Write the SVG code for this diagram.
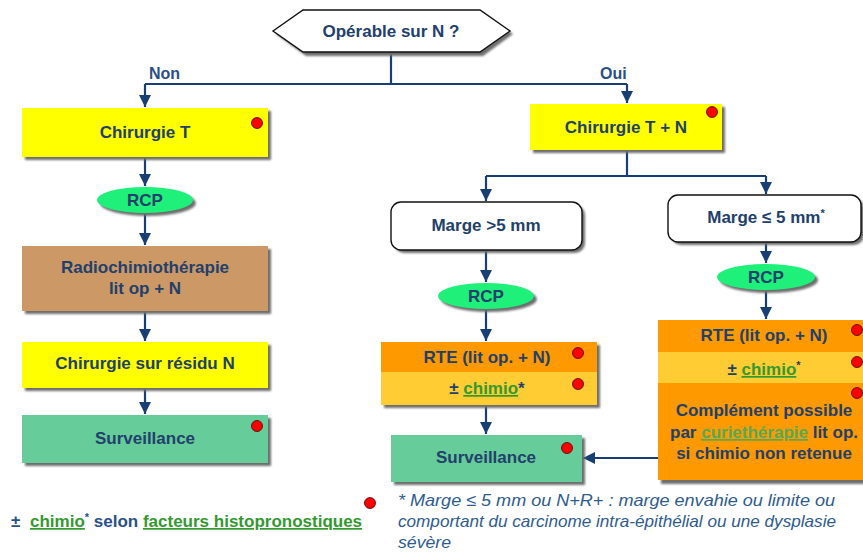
<svg xmlns="http://www.w3.org/2000/svg" width="863" height="553" viewBox="0 0 863 553">
<defs>
<marker id="ah" markerUnits="userSpaceOnUse" markerWidth="14" markerHeight="14" refX="12" refY="6" orient="auto">
<path d="M0,0 L12,6 L0,12 Z" fill="#173F74"/>
</marker>
<filter id="sh" x="-10%" y="-10%" width="130%" height="140%">
<feGaussianBlur stdDeviation="0.8"/>
</filter>
</defs>
<style>
.t{font-family:"Liberation Sans",Arial,sans-serif;font-weight:bold;font-size:17px;fill:#22406C;text-anchor:middle}
.lbl{font-family:"Liberation Sans",Arial,sans-serif;font-weight:bold;font-size:16px;fill:#2A5088}
.u{fill:#33992F;text-decoration:underline}
.st{font-size:11px}
.sh{fill:#6E6E6E;filter:url(#sh)}
.c{fill:none;stroke:#173F74;stroke-width:2.2}
.dot{fill:#FF0000;stroke:#4A0000;stroke-width:0.8}
.yel{fill:#FFFF00}
.grn{fill:#66CC99}
.rcp{fill:#1EF07A}
.tan{fill:#CC9966}
.org{fill:#FF9900}
.lorg{fill:#FFCC33}
.wb{fill:#FFFFFF;stroke:#111111;stroke-width:1.4}
.fn{font-family:"Liberation Sans",Arial,sans-serif;font-style:italic;font-size:17px;fill:#2F5C8E}
</style>

<g id="connectors">
<path class="c" d="M391,53 V84"/>
<path class="c" d="M145,84 H627"/>
<path class="c" d="M145,84 V107" marker-end="url(#ah)"/>
<path class="c" d="M627,84 V103" marker-end="url(#ah)"/>
<path class="c" d="M145,157 V186" marker-end="url(#ah)"/>
<path class="c" d="M145,213 V245" marker-end="url(#ah)"/>
<path class="c" d="M145,311 V341" marker-end="url(#ah)"/>
<path class="c" d="M145,388 V414" marker-end="url(#ah)"/>
<path class="c" d="M627,150 V176"/>
<path class="c" d="M486,176 H766"/>
<path class="c" d="M486,176 V201" marker-end="url(#ah)"/>
<path class="c" d="M766,176 V194" marker-end="url(#ah)"/>
<path class="c" d="M486,250 V282" marker-end="url(#ah)"/>
<path class="c" d="M486,309 V341" marker-end="url(#ah)"/>
<path class="c" d="M766,242 V263" marker-end="url(#ah)"/>
<path class="c" d="M766,290 V319" marker-end="url(#ah)"/>
<path class="c" d="M486,405 V434" marker-end="url(#ah)"/>
<path class="c" d="M658,458 H583" marker-end="url(#ah)"/>
<text class="lbl" x="149" y="79">Non</text>
<text class="lbl" x="600" y="79">Oui</text>
</g>

<g id="operable">
<path class="sh" d="M276,34 L306,13 L483,13 L513,34 L483,56 L306,56 Z"/>
<path class="wb" d="M273,31 L303,10 L480,10 L510,31 L480,52 L303,52 Z"/>
<text class="t" x="391" y="37">Opérable sur N ?</text>
</g>

<g id="chirurgieT">
<rect class="sh" x="25" y="111" width="246" height="49"/>
<rect class="yel" x="22" y="108" width="246" height="49"/>
<text class="t" x="145" y="138">Chirurgie T</text>
<circle class="dot" cx="257" cy="123" r="5.5"/>
</g>

<g id="rcp1">
<ellipse class="sh" cx="148" cy="203" rx="48" ry="13"/>
<ellipse class="rcp" cx="145" cy="200" rx="48" ry="13"/>
<text class="t" x="145" y="206">RCP</text>
</g>

<g id="radiochimio">
<rect class="sh" x="25" y="249" width="246" height="65"/>
<rect class="tan" x="22" y="246" width="246" height="65"/>
<text class="t" x="145" y="273">Radiochimiothérapie</text>
<text class="t" x="145" y="294">lit op + N</text>
</g>

<g id="residu">
<rect class="sh" x="25" y="345" width="246" height="46"/>
<rect class="yel" x="22" y="342" width="246" height="46"/>
<text class="t" x="145" y="369">Chirurgie sur résidu N</text>
</g>

<g id="surveillance1">
<rect class="sh" x="25" y="418" width="246" height="48"/>
<rect class="grn" x="22" y="415" width="246" height="48"/>
<text class="t" x="145" y="444">Surveillance</text>
<circle class="dot" cx="257" cy="426" r="5.5"/>
</g>

<g id="legend">
<text class="lbl" x="11" y="527" style="font-size:17px"><tspan>±</tspan><tspan x="30" class="u">chimio</tspan><tspan class="st" dy="-6">*</tspan><tspan dy="6"> selon </tspan><tspan class="u">facteurs histopronostiques</tspan></text>
<circle class="dot" cx="370" cy="503" r="5.5"/>
</g>

<g id="chirurgieTN">
<rect class="sh" x="533" y="107" width="192" height="46"/>
<rect class="yel" x="530" y="104" width="192" height="46"/>
<text class="t" x="626" y="133">Chirurgie T + N</text>
<circle class="dot" cx="712" cy="112" r="5.5"/>
</g>

<g id="margeSup">
<rect class="sh" x="394" y="205" width="191" height="48" rx="10"/>
<rect class="wb" x="391" y="202" width="191" height="48" rx="10"/>
<text class="t" x="486" y="231">Marge &gt;5 mm</text>
</g>

<g id="margeInf">
<rect class="sh" x="671" y="198" width="193" height="47" rx="10"/>
<rect class="wb" x="668" y="195" width="193" height="47" rx="10"/>
<text class="t" x="766" y="223">Marge ≤ 5 mm<tspan class="st" dy="-6">*</tspan></text>
</g>

<g id="rcp2">
<ellipse class="sh" cx="489" cy="299" rx="48" ry="13"/>
<ellipse class="rcp" cx="486" cy="296" rx="48" ry="13"/>
<text class="t" x="486" y="302">RCP</text>
</g>

<g id="rcp3">
<ellipse class="sh" cx="769" cy="280" rx="49" ry="13"/>
<ellipse class="rcp" cx="766" cy="277" rx="49" ry="13"/>
<text class="t" x="766" y="283">RCP</text>
</g>

<g id="rteLeft">
<rect class="sh" x="384" y="345" width="216" height="63"/>
<rect class="org" x="381" y="342" width="216" height="30"/>
<rect class="lorg" x="381" y="372" width="216" height="33"/>
<text class="t" x="487" y="363">RTE (lit op. + N)</text>
<text class="t" x="487" y="394">± <tspan class="u">chimio</tspan>*</text>
<circle class="dot" cx="578" cy="353" r="5.5"/>
<circle class="dot" cx="578" cy="384" r="5.5"/>
</g>

<g id="surveillance2">
<rect class="sh" x="394" y="438" width="191" height="47"/>
<rect class="grn" x="391" y="435" width="191" height="47"/>
<text class="t" x="486" y="463">Surveillance</text>
<circle class="dot" cx="567" cy="448" r="5.5"/>
</g>

<g id="rteRight">
<rect class="sh" x="661" y="323" width="212" height="161"/>
<rect class="org" x="658" y="320" width="212" height="32"/>
<rect class="lorg" x="658" y="352" width="212" height="31"/>
<rect class="org" x="658" y="383" width="212" height="97"/>
<text class="t" x="764" y="341">RTE (lit op. + N)</text>
<text class="t" x="764" y="375">± <tspan class="u">chimio</tspan><tspan class="st" dy="-6">*</tspan></text>
<text class="t" x="764" y="416">Complément possible</text>
<text class="t" x="764" y="438">par <tspan style="fill:#55AA55;text-decoration:underline">curiethérapie</tspan> lit op.</text>
<text class="t" x="764" y="459">si chimio non retenue</text>
<circle class="dot" cx="857" cy="330" r="5.5"/>
<circle class="dot" cx="857" cy="362" r="5.5"/>
<circle class="dot" cx="857" cy="393" r="5.5"/>
</g>

<g id="footnote">
<text class="fn" x="398" y="506" textLength="437" lengthAdjust="spacingAndGlyphs">* Marge ≤ 5 mm ou N+R+ : marge envahie ou limite ou</text>
<text class="fn" x="398" y="527" textLength="438" lengthAdjust="spacingAndGlyphs">comportant du carcinome intra-épithélial ou une dysplasie</text>
<text class="fn" x="398" y="548" textLength="53" lengthAdjust="spacingAndGlyphs">sévère</text>
</g>
</svg>
